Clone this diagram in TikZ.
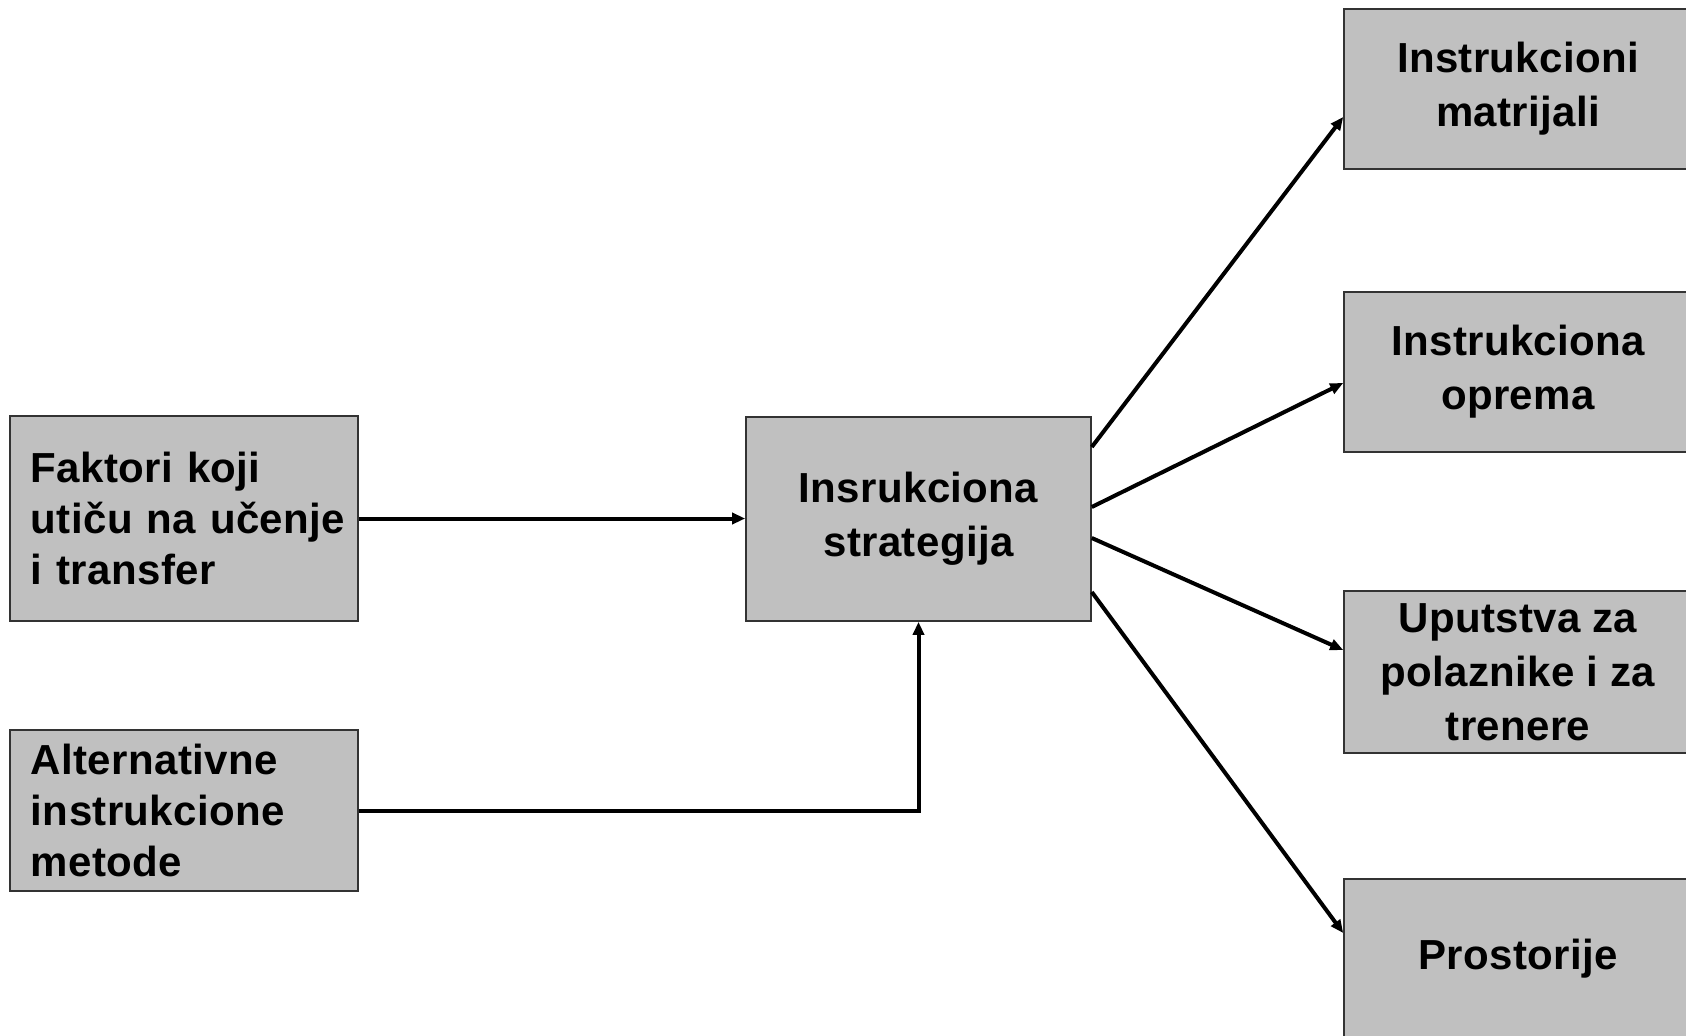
\documentclass[tikz,border=0pt]{standalone}
\usepackage{fontspec}
\setmainfont[LetterSpace=0.8]{Liberation Sans}
\usetikzlibrary{arrows.meta,calc}
\definecolor{boxfill}{HTML}{C0C0C0}
\definecolor{boxline}{HTML}{333333}
\tikzset{
  box/.style={draw=boxline, fill=boxfill, line width=0.8pt, inner sep=0pt},
  lbox/.style={box, minimum width=174pt, align=left, text width=153pt,
    font=\bfseries\fontsize{21}{25.5}\selectfont},
  cbox/.style={box, minimum width=174pt, align=center,
    font=\bfseries\fontsize{21}{27}\selectfont},
  conn/.style={line width=2pt, -{Triangle[length=6.5pt,width=5.5pt]}}
}
\begin{document}
\begin{tikzpicture}[x=0.5pt,y=-0.5pt]
\useasboundingbox (0,0) rectangle (1686,1035);
\fill[white] (0,0) rectangle (1686,1035);
\clip (0,0) rectangle (1686,1035);

\node[lbox, minimum height=102.5pt] (f) at (184,518.5) {Faktori koji\\\mbox{utiču na učenje}\\i transfer};
\node[lbox, minimum height=80.5pt] (a) at (184,810.5) {Alternativne\\instrukcione\\metode};
\node[cbox, minimum width=172.5pt, minimum height=102pt] (s) at (918.5,519) {Insrukciona\\strategija};

\node[cbox, minimum height=80pt] (r1) at (1518,89) {Instrukcioni\\matrijali};
\node[cbox, minimum height=80pt] (r2) at (1518,372) {Instrukciona\\oprema};
\node[cbox, minimum height=81pt] (r3) at (1518,672) {Uputstva za\\polaznike i za\\trenere};
\node[cbox, minimum height=80pt] (r4) at (1518,959) {Prostorije};

\draw[conn] (f.east) -- (f.east -| s.west);
\draw[conn] (a.east) -| (s.south);

\draw[conn] ([yshift=36pt]s.east) -- ([yshift=-14pt]r1.west);
\draw[conn] ([yshift=6pt]s.east) -- ([yshift=-5.5pt]r2.west);
\draw[conn] ([yshift=-9.5pt]s.east) -- ([yshift=11pt]r3.west);
\draw[conn] ([yshift=-36.5pt]s.east) -- ([yshift=13pt]r4.west);
\end{tikzpicture}
\end{document}
